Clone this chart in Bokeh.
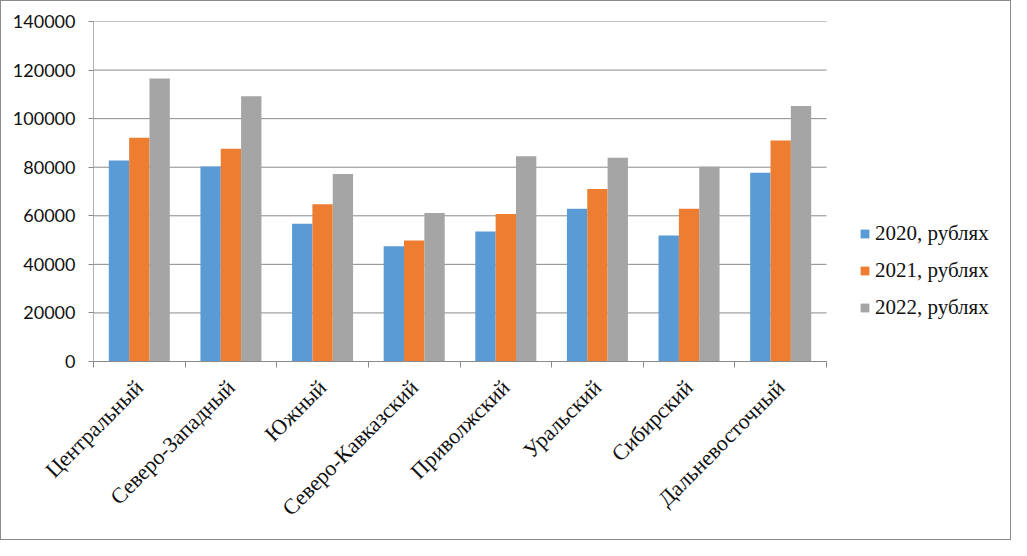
from bokeh.plotting import figure
from bokeh.models import Range1d, FixedTicker, Legend, LegendItem, ColumnDataSource, PrintfTickFormatter
from bokeh.embed import file_html
from bokeh.resources import INLINE
import math

categories = ["Центральный", "Северо-Западный", "Южный", "Северо-Кавказский",
              "Приволжский", "Уральский", "Сибирский", "Дальневосточный"]
series_names = ["2020, рублях", "2021, рублях", "2022, рублях"]
values_2020 = [82800, 80300, 56700, 47500, 53500, 62900, 51900, 77700]
values_2021 = [92100, 87600, 64800, 49800, 60700, 71000, 62900, 91000]
values_2022 = [116500, 109200, 77200, 61100, 84500, 83900, 80200, 105200]
y_ticks = [0, 20000, 40000, 60000, 80000, 100000, 120000, 140000]

colors = ["#5B9BD5", "#ED7D31", "#A5A5A5"]
all_values = [values_2020, values_2021, values_2022]

n = len(categories)
# frame spans page x 100..1010; categories occupy 100..833
x_end = n * (1010 - 100) / (833 - 100)

p = figure(width=1011, height=540, output_backend="svg", toolbar_location=None,
           x_range=Range1d(0, x_end), y_range=Range1d(0, 140000),
           min_border_left=92, min_border_right=9, min_border_top=20, min_border_bottom=180)
p.styles = {"border": "1px solid #8a8a8a", "box-sizing": "border-box"}
p.outline_line_color = None
p.background_fill_color = "white"
p.border_fill_color = "white"

grid_col = "#8a8a8a"
# horizontal gridlines limited to the category area
p.segment(x0=[0] * len(y_ticks), x1=[n] * len(y_ticks), y0=y_ticks, y1=y_ticks,
          line_color=grid_col, line_width=1)

bar_w = 0.222
offsets = [-bar_w, 0.0, bar_w]
centers = [i + 0.5 for i in range(n)]
renderers = []
for vals, off, col in zip(all_values, offsets, colors):
    src = ColumnDataSource(dict(x=[c + off for c in centers], top=vals))
    r = p.vbar(x="x", top="top", width=bar_w, source=src, fill_color=col, line_color=None)
    renderers.append(r)

# Y axis
p.yaxis.ticker = FixedTicker(ticks=y_ticks)
p.yaxis.formatter = PrintfTickFormatter(format="%d")
p.yaxis.axis_line_color = "#b0b0b0"
p.yaxis.major_tick_line_color = grid_col
p.yaxis.major_tick_out = 5
p.yaxis.major_tick_in = 0
p.yaxis.minor_tick_line_color = None
p.yaxis.major_label_standoff = 13
p.yaxis.major_label_text_font = "Lato"
p.yaxis.major_label_text_font_size = "18px"
p.yaxis.major_label_text_color = "#111111"

p.ygrid.grid_line_color = None
p.xgrid.grid_line_color = None

# X axis: labels at centers, ticks at boundaries
p.xaxis.bounds = (0, n)
p.xaxis.ticker = FixedTicker(ticks=centers, minor_ticks=list(range(n + 1)))
p.xaxis.major_label_overrides = {c: name for c, name in zip(centers, categories)}
p.xaxis.major_tick_line_color = None
p.xaxis.major_tick_out = 0
p.xaxis.major_tick_in = 0
p.xaxis.minor_tick_line_color = grid_col
p.xaxis.minor_tick_out = 6
p.xaxis.minor_tick_in = 0
p.xaxis.axis_line_color = grid_col
p.xaxis.major_label_orientation = math.pi / 4
p.xaxis.major_label_standoff = 16
p.xaxis.major_label_text_font = "Liberation Serif"
p.xaxis.major_label_text_font_size = "22px"
p.xaxis.major_label_text_color = "#111111"

legend = Legend(items=[LegendItem(label=s, renderers=[r]) for s, r in zip(series_names, renderers)],
                location=(766, 41), orientation="vertical")
legend.margin = 0
legend.padding = 0
legend.spacing = 12
legend.glyph_width = 11
legend.glyph_height = 11
legend.label_height = 21
legend.label_standoff = 5
legend.label_text_font = "Liberation Serif"
legend.label_text_font_size = "21px"
legend.label_text_color = "#111111"
legend.border_line_color = None
legend.background_fill_alpha = 0
p.add_layout(legend, "center")

open("out.html", "w").write(file_html(p, INLINE))
